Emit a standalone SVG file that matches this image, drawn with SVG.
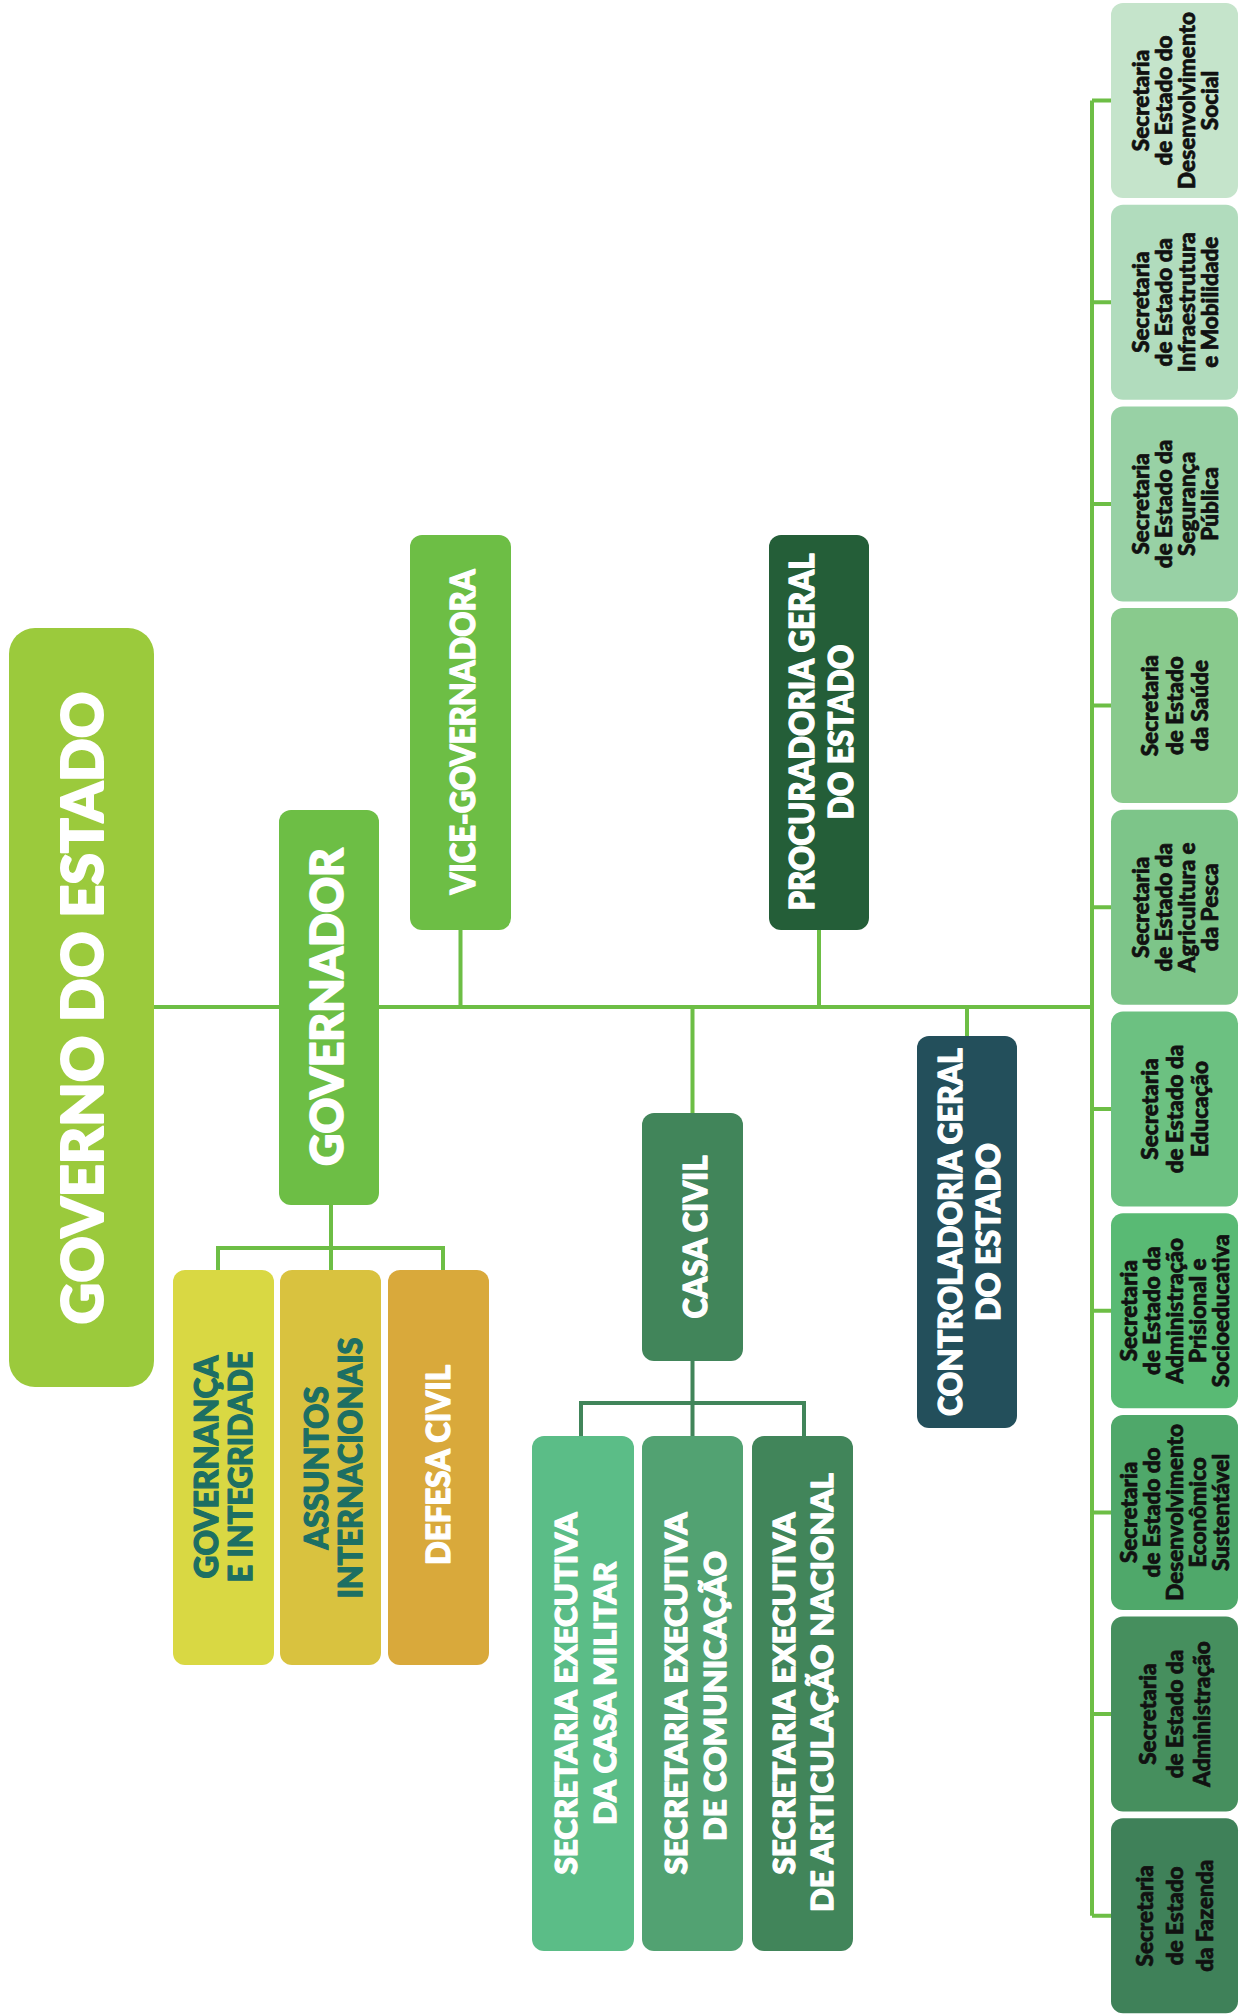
<svg xmlns="http://www.w3.org/2000/svg" width="1240" height="2015" viewBox="0 0 1240 2015">
<style>
.h{font-family:Lato,"Liberation Sans",sans-serif;font-weight:900;fill:#fff;stroke:#fff;stroke-width:1.3px;stroke-linejoin:round;text-anchor:middle}
.t{fill:#1d6f63;stroke:#1d6f63}
.s{font-family:Lato,"Liberation Sans",sans-serif;font-weight:900;font-size:22.5px;fill:#111;stroke:#111;stroke-width:0.7px;stroke-linejoin:round;text-anchor:middle}
.c{fill:none;stroke:#6dbe45;stroke-width:4}
.cd{fill:none;stroke:#41855a;stroke-width:4}
</style>
<rect width="1240" height="2015" fill="#fff"/>
<g id="connectors">
<path class="c" d="M154,1007 H1092 M1092,100.5 V1915.8"/>
<path class="c" d="M460.5,930 V1007 M819,930 V1007 M692.5,1007 V1113 M967,1007 V1036"/>
<path class="c" d="M1092,100.5 H1111 M1092,302.2 H1111 M1092,503.9 H1111 M1092,705.6 H1111 M1092,907.3 H1111 M1092,1109 H1111 M1092,1310.7 H1111 M1092,1512.4 H1111 M1092,1714.1 H1111 M1092,1915.8 H1111"/>
<path class="c" d="M331,1205 V1270 M218,1270 V1248 H443 V1270"/>
<path class="cd" d="M692.5,1361 V1436 M581,1436 V1403 H804 V1436"/>
</g>
<g id="governo">
<rect x="9" y="628" width="145" height="759" rx="26" fill="#9bca3c"/>
<text class="h" transform="rotate(-90)" x="-1008" y="103" font-size="57" textLength="633" lengthAdjust="spacingAndGlyphs" style="stroke-width:2px">GOVERNO DO ESTADO</text>
</g>
<g id="governador">
<rect x="279" y="810" width="100" height="395" rx="12" fill="#6dbe45"/>
<text class="h" transform="rotate(-90)" x="-1007" y="343" font-size="46" textLength="318" lengthAdjust="spacingAndGlyphs" style="stroke-width:1.7px">GOVERNADOR</text>
</g>
<g id="vice">
<rect x="410" y="535" width="101" height="395" rx="12" fill="#6dbe45"/>
<text class="h" transform="rotate(-90)" x="-732" y="475" font-size="34" textLength="325" lengthAdjust="spacingAndGlyphs">VICE-GOVERNADORA</text>
</g>
<g id="procuradoria">
<rect x="769" y="535" width="100" height="395" rx="12" fill="#245e38"/>
<text class="h" transform="rotate(-90)" x="-732" y="814" font-size="34" textLength="357" lengthAdjust="spacingAndGlyphs">PROCURADORIA GERAL</text>
<text class="h" transform="rotate(-90)" x="-732" y="853" font-size="34" textLength="175" lengthAdjust="spacingAndGlyphs">DO ESTADO</text>
</g>
<g id="controladoria">
<rect x="917" y="1036" width="100" height="392" rx="12" fill="#234f5b"/>
<text class="h" transform="rotate(-90)" x="-1232" y="962" font-size="32" textLength="368" lengthAdjust="spacingAndGlyphs">CONTROLADORIA GERAL</text>
<text class="h" transform="rotate(-90)" x="-1232" y="1000" font-size="32" textLength="178" lengthAdjust="spacingAndGlyphs">DO ESTADO</text>
</g>
<g id="casa-civil">
<rect x="642" y="1113" width="101" height="248" rx="12" fill="#41855a"/>
<text class="h" transform="rotate(-90)" x="-1237" y="707" font-size="32" textLength="163" lengthAdjust="spacingAndGlyphs">CASA CIVIL</text>
</g>
<g id="governanca">
<rect x="173" y="1270" width="101" height="395" rx="12" fill="#d9d843"/>
<text class="h t" transform="rotate(-90)" x="-1467" y="218" font-size="32" textLength="223" lengthAdjust="spacingAndGlyphs">GOVERNANÇA</text>
<text class="h t" transform="rotate(-90)" x="-1467" y="252" font-size="32" textLength="231" lengthAdjust="spacingAndGlyphs">E INTEGRIDADE</text>
</g>
<g id="assuntos">
<rect x="280" y="1270" width="101" height="395" rx="12" fill="#d9c23f"/>
<text class="h t" transform="rotate(-90)" x="-1468" y="328" font-size="32" textLength="163" lengthAdjust="spacingAndGlyphs">ASSUNTOS</text>
<text class="h t" transform="rotate(-90)" x="-1468" y="362" font-size="32" textLength="261" lengthAdjust="spacingAndGlyphs">INTERNACIONAIS</text>
</g>
<g id="defesa">
<rect x="388" y="1270" width="101" height="395" rx="12" fill="#d9a93b"/>
<text class="h" transform="rotate(-90)" x="-1465" y="450" font-size="32" textLength="200" lengthAdjust="spacingAndGlyphs">DEFESA CIVIL</text>
</g>
<g id="se-casa-militar">
<rect x="532" y="1436" width="102" height="515" rx="12" fill="#5bbd87"/>
<text class="h" transform="rotate(-90)" x="-1693.5" y="577" font-size="31" textLength="362" lengthAdjust="spacingAndGlyphs">SECRETARIA EXECUTIVA</text>
<text class="h" transform="rotate(-90)" x="-1693.5" y="616" font-size="31" textLength="263" lengthAdjust="spacingAndGlyphs">DA CASA MILITAR</text>
</g>
<g id="se-comunicacao">
<rect x="642" y="1436" width="101" height="515" rx="12" fill="#52a272"/>
<text class="h" transform="rotate(-90)" x="-1693.5" y="687" font-size="31" textLength="362" lengthAdjust="spacingAndGlyphs">SECRETARIA EXECUTIVA</text>
<text class="h" transform="rotate(-90)" x="-1696" y="726" font-size="31" textLength="290" lengthAdjust="spacingAndGlyphs">DE COMUNICAÇÃO</text>
</g>
<g id="se-articulacao">
<rect x="752" y="1436" width="101" height="515" rx="12" fill="#41855a"/>
<text class="h" transform="rotate(-90)" x="-1693.5" y="795" font-size="31" textLength="362" lengthAdjust="spacingAndGlyphs">SECRETARIA EXECUTIVA</text>
<text class="h" transform="rotate(-90)" x="-1692.5" y="833" font-size="31" textLength="439" lengthAdjust="spacingAndGlyphs">DE ARTICULAÇÃO NACIONAL</text>
</g>
<g id="sec-desenv-social">
<rect x="1111" y="3" width="127" height="195" rx="12" fill="#c5e4cb"/>
<text class="s" transform="rotate(-90)"><tspan x="-100.5" y="1148.5">Secretaria</tspan><tspan x="-100.5" y="1171.5">de Estado do</tspan><tspan x="-100.5" y="1194.5">Desenvolvimento</tspan><tspan x="-100.5" y="1217.5">Social</tspan></text>
</g>
<g id="sec-infraestrutura">
<rect x="1111" y="204.7" width="127" height="195" rx="12" fill="#b1dcbd"/>
<text class="s" transform="rotate(-90)"><tspan x="-302.2" y="1148.5">Secretaria</tspan><tspan x="-302.2" y="1171.5">de Estado da</tspan><tspan x="-302.2" y="1194.5">Infraestrutura</tspan><tspan x="-302.2" y="1217.5">e Mobilidade</tspan></text>
</g>
<g id="sec-seguranca">
<rect x="1111" y="406.4" width="127" height="195" rx="12" fill="#98d1a5"/>
<text class="s" transform="rotate(-90)"><tspan x="-503.9" y="1148.5">Secretaria</tspan><tspan x="-503.9" y="1171.5">de Estado da</tspan><tspan x="-503.9" y="1194.5">Segurança</tspan><tspan x="-503.9" y="1217.5">Pública</tspan></text>
</g>
<g id="sec-saude">
<rect x="1111" y="608.1" width="127" height="195" rx="12" fill="#89ca8d"/>
<text class="s" transform="rotate(-90)"><tspan x="-705.6" y="1158">Secretaria</tspan><tspan x="-705.6" y="1183">de Estado</tspan><tspan x="-705.6" y="1208">da Saúde</tspan></text>
</g>
<g id="sec-agricultura">
<rect x="1111" y="809.8" width="127" height="195" rx="12" fill="#7dc589"/>
<text class="s" transform="rotate(-90)"><tspan x="-907.3" y="1148.5">Secretaria</tspan><tspan x="-907.3" y="1171.5">de Estado da</tspan><tspan x="-907.3" y="1194.5">Agricultura e</tspan><tspan x="-907.3" y="1217.5">da Pesca</tspan></text>
</g>
<g id="sec-educacao">
<rect x="1111" y="1011.5" width="127" height="195" rx="12" fill="#6cc181"/>
<text class="s" transform="rotate(-90)"><tspan x="-1109" y="1158">Secretaria</tspan><tspan x="-1109" y="1183">de Estado da</tspan><tspan x="-1109" y="1208">Educação</tspan></text>
</g>
<g id="sec-adm-prisional">
<rect x="1111" y="1213.2" width="127" height="195" rx="12" fill="#59ba74"/>
<text class="s" transform="rotate(-90)"><tspan x="-1310.7" y="1137">Secretaria</tspan><tspan x="-1310.7" y="1160">de Estado da</tspan><tspan x="-1310.7" y="1183">Administração</tspan><tspan x="-1310.7" y="1206">Prisional e</tspan><tspan x="-1310.7" y="1229">Socioeducativa</tspan></text>
</g>
<g id="sec-desenv-economico">
<rect x="1111" y="1414.9" width="127" height="195" rx="12" fill="#4fa86a"/>
<text class="s" transform="rotate(-90)"><tspan x="-1512.4" y="1137">Secretaria</tspan><tspan x="-1512.4" y="1160">de Estado do</tspan><tspan x="-1512.4" y="1183">Desenvolvimento</tspan><tspan x="-1512.4" y="1206">Econômico</tspan><tspan x="-1512.4" y="1229">Sustentável</tspan></text>
</g>
<g id="sec-administracao">
<rect x="1111" y="1616.6" width="127" height="195" rx="12" fill="#468f5e"/>
<text class="s" transform="rotate(-90)"><tspan x="-1714.1" y="1156">Secretaria</tspan><tspan x="-1714.1" y="1183">de Estado da</tspan><tspan x="-1714.1" y="1210">Administração</tspan></text>
</g>
<g id="sec-fazenda">
<rect x="1111" y="1818.3" width="127" height="195" rx="12" fill="#3f8159"/>
<text class="s" transform="rotate(-90)"><tspan x="-1915.8" y="1153">Secretaria</tspan><tspan x="-1915.8" y="1183">de Estado</tspan><tspan x="-1915.8" y="1213">da Fazenda</tspan></text>
</g>
</svg>
